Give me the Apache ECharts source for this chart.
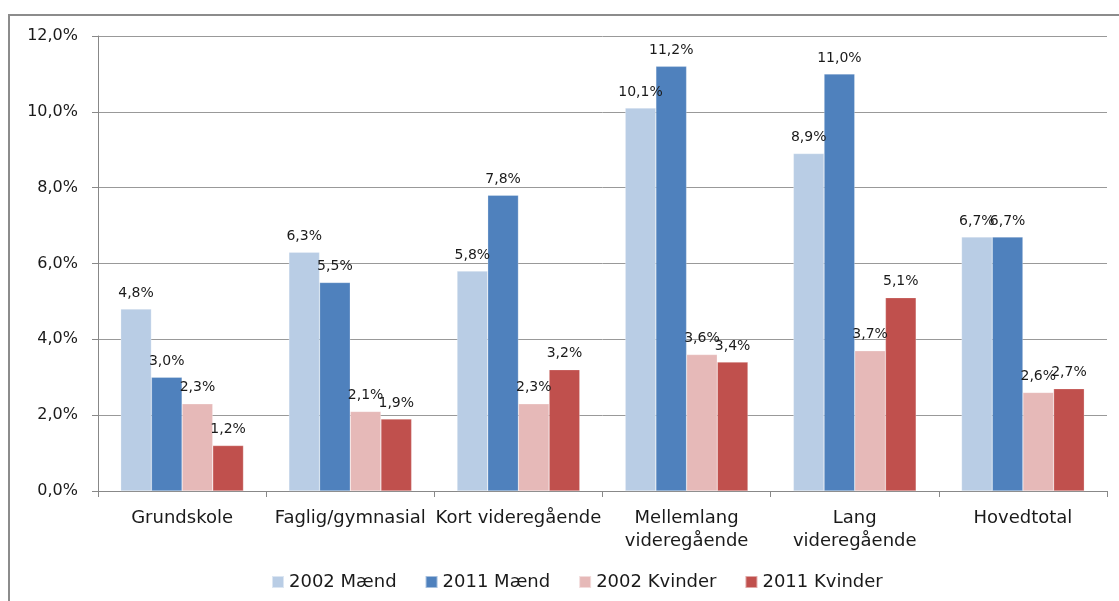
<!DOCTYPE html>
<html lang="da">
<head>
    <meta charset="UTF-8">
    <title>Andel efter uddannelse</title>
    <style>
        html, body { margin: 0; padding: 0; background: #fff; }
        #container { width: 1119px; height: 601px; }
    </style>
</head>
<body>
    <div id="container"></div>
    <script src="https://cdn.jsdelivr.net/npm/echarts@6/dist/echarts.min.js"></script>
    <script>
        var categories = ['Grundskole', 'Faglig/gymnasial', 'Kort videregående', 'Mellemlang\nvideregående', 'Lang\nvideregående', 'Hovedtotal'];
        var seriesNames = ['2002 Mænd', '2011 Mænd', '2002 Kvinder', '2011 Kvinder'];
        var maend2002 = [4.8, 6.3, 5.8, 10.1, 8.9, 6.7];
        var maend2011 = [3.0, 5.5, 7.8, 11.2, 11.0, 6.7];
        var kvinder2002 = [2.3, 2.1, 2.3, 3.6, 3.7, 2.6];
        var kvinder2011 = [1.2, 1.9, 3.2, 3.4, 5.1, 2.7];
        var colors = ['#B9CDE5', '#4F81BD', '#E6B9B8', '#C0504D'];

        var ec = echarts.init(document.querySelector('#container'));

        function pct(v) {
            return v.toFixed(1).replace('.', ',') + '%';
        }

        var font = 'DejaVu Sans';
        var allData = [maend2002, maend2011, kvinder2002, kvinder2011];

        var series = allData.map(function (d, i) {
            return {
                name: seriesNames[i],
                type: 'bar',
                data: d,
                barGap: '0%',
                barCategoryGap: '27%',
                itemStyle: { color: colors[i], borderColor: 'rgba(255,255,255,0.5)', borderWidth: 0.5 },
                label: {
                    show: true,
                    position: 'top',
                    distance: 9,
                    fontFamily: font,
                    fontSize: 14,
                    color: '#1a1a1a',
                    formatter: function (p) { return pct(p.value); }
                }
            };
        });

        var option = {
            backgroundColor: '#fff',
            animation: false,
            color: colors,
            graphic: [{
                type: 'rect',
                shape: { x: 9, y: 15, width: 1200, height: 700 },
                style: { fill: 'none', stroke: '#8c8c8c', lineWidth: 2 },
                silent: true
            }],
            grid: { left: 98, right: 12, top: 36, bottom: 110 },
            legend: {
                bottom: 5,
                left: 266,
                itemWidth: 12,
                itemHeight: 12,
                itemGap: 28,
                icon: 'rect',
                textStyle: { fontFamily: font, fontSize: 18, color: '#1a1a1a' },
                data: seriesNames
            },
            xAxis: {
                type: 'category',
                data: categories,
                axisLine: { lineStyle: { color: '#888' } },
                axisTick: { show: true, length: 6, lineStyle: { color: '#888' } },
                axisLabel: {
                    fontFamily: font,
                    fontSize: 18,
                    color: '#1a1a1a',
                    margin: 16,
                    lineHeight: 23,
                    interval: 0
                }
            },
            yAxis: {
                type: 'value',
                min: 0,
                max: 12,
                interval: 2,
                axisLine: { show: true, lineStyle: { color: '#888' } },
                axisTick: { show: true, length: 6, lineStyle: { color: '#888' } },
                splitLine: { lineStyle: { color: '#999' } },
                axisLabel: {
                    fontFamily: font,
                    fontSize: 16,
                    color: '#1a1a1a',
                    margin: 20,
                    formatter: function (v) { return pct(v); }
                }
            },
            series: series
        };

        ec.setOption(option);
    </script>
</body>
</html>
